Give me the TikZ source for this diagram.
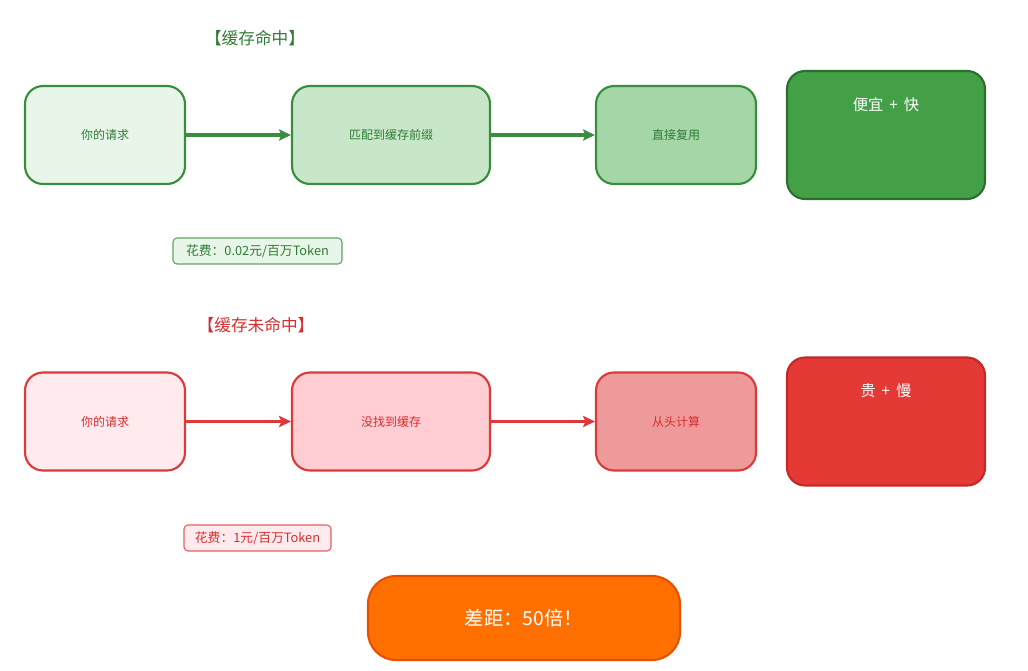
\documentclass[tikz,border=0pt]{standalone}
\usepackage{fontspec}
\setmainfont{Noto Sans CJK SC}
\usetikzlibrary{arrows.meta}
\definecolor{gdark}{HTML}{2E7D32}
\definecolor{gline}{HTML}{388E3C}
\definecolor{gA}{HTML}{E8F5E9}
\definecolor{gB}{HTML}{C8E6C9}
\definecolor{gC}{HTML}{A5D6A7}
\definecolor{gD}{HTML}{43A047}
\definecolor{gDb}{HTML}{2B6E2F}
\definecolor{rdark}{HTML}{D32F2F}
\definecolor{rline}{HTML}{DC3A3A}
\definecolor{rA}{HTML}{FFEBEE}
\definecolor{rB}{HTML}{FFCDD2}
\definecolor{rC}{HTML}{EF9A9A}
\definecolor{rD}{HTML}{E53935}
\definecolor{rDb}{HTML}{C62828}
\definecolor{oF}{HTML}{FF7000}
\definecolor{oB}{HTML}{E65100}
\tikzset{
  box/.style={draw, line width=1.6pt, rounded corners=13.5pt, inner sep=0pt, font=\fontsize{9}{11}\selectfont},
  bigbox/.style={draw, line width=1.6pt, rounded corners=13.5pt, inner sep=0pt, minimum width=148.5pt, minimum height=96pt},
  cost/.style={draw, line width=0.8pt, rounded corners=3pt, inner sep=0pt, minimum height=19.5pt, font=\fontsize{9.6}{11}\selectfont},
  title/.style={font=\fontsize{12.5}{14}\selectfont},
  bigtext/.style={text=white, font=\fontsize{11.5}{13}\selectfont},
  garrow/.style={draw=gline, line width=2.5pt, -{Stealth[length=9pt,width=8.5pt,inset=2pt]}},
  rarrow/.style={draw=rline, line width=2.5pt, -{Stealth[length=9pt,width=8.5pt,inset=2pt]}},
}
\begin{document}
\begin{tikzpicture}[x=0.75pt,y=-0.75pt]
\useasboundingbox (0,0) rectangle (1028,671);
% hit row
\node[title, text=gdark] (t1) at (255,38) {【缓存命中】};
\node[box, draw=gline, fill=gA, text=gdark, minimum width=120pt, minimum height=73.5pt] (a1) at (105,135) {你的请求};
\node[box, draw=gline, fill=gB, text=gdark, minimum width=148.5pt, minimum height=73.5pt] (a2) at (391,135) {匹配到缓存前缀};
\node[box, draw=gline, fill=gC, text=gdark, minimum width=120pt, minimum height=73.5pt] (a3) at (676,135) {直接复用};
\node[bigbox, draw=gDb, fill=gD] (a4) at (886,135) {};
\node[bigtext] (a4t) at (886,105) {便宜\, + \,快};
\draw[garrow] (a1) -- (a2);
\draw[garrow] (a2) -- (a3);
\node[cost, draw=gline!80, fill=gA, text=gdark, minimum width=126.75pt] (c1) at (257.5,251) {花费：0.02元/百万Token};
% miss row
\node[title, text=rdark] (t2) at (256,325) {【缓存未命中】};
\node[box, draw=rline, fill=rA, text=rdark, minimum width=120pt, minimum height=73.5pt] (b1) at (105,421.5) {你的请求};
\node[box, draw=rline, fill=rB, text=rdark, minimum width=148.5pt, minimum height=73.5pt] (b2) at (391,421.5) {没找到缓存};
\node[box, draw=rline, fill=rC, text=rdark, minimum width=120pt, minimum height=73.5pt] (b3) at (676,421.5) {从头计算};
\node[bigbox, draw=rDb, fill=rD] (b4) at (886,421.5) {};
\node[bigtext] (b4t) at (886,391) {贵\, + \,慢};
\draw[rarrow] (b1) -- (b2);
\draw[rarrow] (b2) -- (b3);
\node[cost, draw=rline!80, fill=rA, text=rdark, minimum width=110.25pt] (c2) at (257.5,538) {花费：1元/百万Token};
% bottom
\node[draw=oB, fill=oF, line width=1.6pt, rounded corners=21pt, minimum width=234pt, minimum height=63pt, text=white, font=\fontsize{14.5}{16}\selectfont] (d) at (524,618) {差距：50倍！};
\end{tikzpicture}
\end{document}
